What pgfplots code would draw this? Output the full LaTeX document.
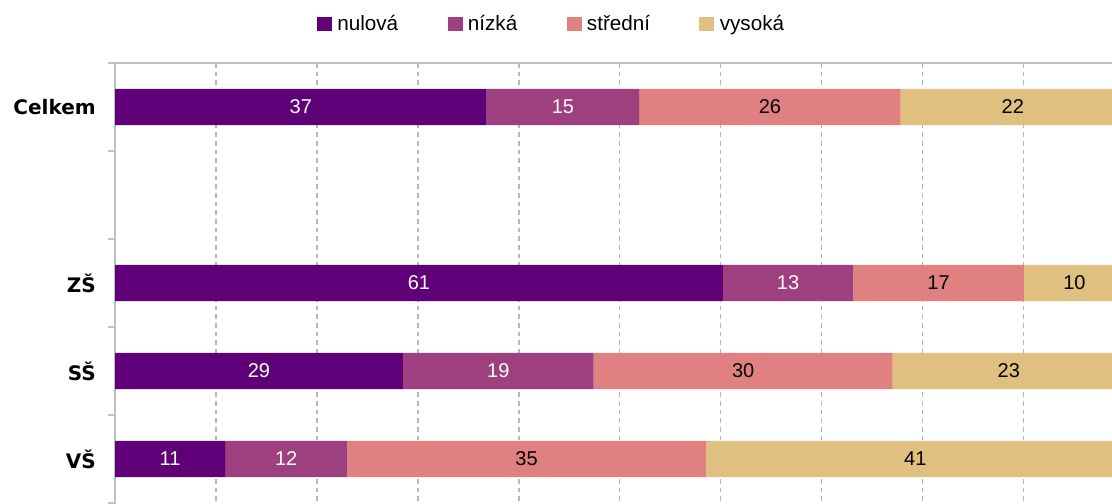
\documentclass[border=0pt]{standalone}
\usepackage{fontspec}
\setmainfont{Liberation Sans}
\newfontfamily\dejavu{DejaVu Sans}
\usepackage{pgfplots}
\usepackage{pgfplotstable}
\pgfplotsset{compat=1.18}

\definecolor{cnul}{HTML}{600078}
\definecolor{cniz}{HTML}{9E4080}
\definecolor{cstr}{HTML}{E08080}
\definecolor{cvys}{HTML}{E0C080}
\definecolor{axgray}{HTML}{C0C0C0}
\definecolor{grdgray}{HTML}{B8B8B8}

% segment widths as drawn (a..d) and the printed labels (la..ld)
\pgfplotstableread{
y  a    b    c    d    la lb lc ld
0  36.8 15.1 25.9 22.2 37 15 26 22
2  60.2 12.9 16.9 10.0 61 13 17 10
3  28.5 18.9 29.6 23.0 29 19 30 23
4  10.9 12.1 35.5 41.5 11 12 35 41
}\data

\pgfplotsset{
  common/.style={
    at={(86.25pt,330pt)}, anchor=north west,
    scale only axis, width=765pt, height=343.2pt,
    xmin=0, xmax=101, ymin=-0.5, ymax=4.7,
    y dir=reverse,
  },
}

\begin{document}
\begin{tikzpicture}
\useasboundingbox (0,0) rectangle (834pt,377.25pt);
\begin{axis}[common,
  xbar stacked, bar width=27pt,
  axis line style={axgray, line width=1pt},
  xtick={10,20,...,90}, xticklabels={},
  x tick style={draw=none},
  xmajorgrids, major grid style={grdgray, dash pattern=on 3.5pt off 3pt, line width=0.8pt},
  ytick={0,2,3,4}, yticklabels={Celkem,ZŠ,SŠ,VŠ},
  ytick pos=left, tick align=outside,
  major y tick style={draw=none},
  minor ytick={-0.5,0.5,1.5,2.5,3.5,4.5},
  minor tick length=5.25pt,
  minor y tick style={axgray, line width=1pt},
  y tick label style={font=\dejavu\bfseries\fontsize{15pt}{18pt}\selectfont,
    anchor=east, inner sep=0pt, xshift=-10pt},
  legend columns=4,
  legend style={draw=none, fill=none, inner sep=0pt, outer sep=0pt,
    at={(rel axis cs:0.198,1)}, anchor=west, yshift=29.25pt,
    font=\fontsize{15.5pt}{18pt}\selectfont,
    /tikz/every even column/.style={column sep=37pt},
    nodes={inner sep=0pt, outer sep=0pt}},
  legend image code/.code={\fill[#1,draw=none] (0pt,-5.6pt) rectangle (11.25pt,5.6pt);},
  legend cell align=left,
]
\addplot[fill=cnul, draw=none] table[x=a, y=y] \data;
\addplot[fill=cniz, draw=none] table[x=b, y=y] \data;
\addplot[fill=cstr, draw=none] table[x=c, y=y] \data;
\addplot[fill=cvys, draw=none] table[x=d, y=y] \data;
\legend{\hspace{4pt}nulová, \hspace{4pt}nízká, \hspace{4pt}střední, \hspace{4pt}vysoká}
\end{axis}
\begin{axis}[common, hide axis, clip=false,
  nodes near coords, point meta=explicit symbolic,
  every node near coord/.append style={anchor=center,
    font=\fontsize{15pt}{18pt}\selectfont},
]
\addplot[draw=none, nodes near coords style={text=white}]
  table[x expr=\thisrow{a}/2, y=y, meta=la] \data;
\addplot[draw=none, nodes near coords style={text=white}]
  table[x expr=\thisrow{a}+\thisrow{b}/2, y=y, meta=lb] \data;
\addplot[draw=none, nodes near coords style={text=black}]
  table[x expr=\thisrow{a}+\thisrow{b}+\thisrow{c}/2, y=y, meta=lc] \data;
\addplot[draw=none, nodes near coords style={text=black}]
  table[x expr=\thisrow{a}+\thisrow{b}+\thisrow{c}+\thisrow{d}/2, y=y, meta=ld] \data;
\end{axis}
\end{tikzpicture}
\end{document}
